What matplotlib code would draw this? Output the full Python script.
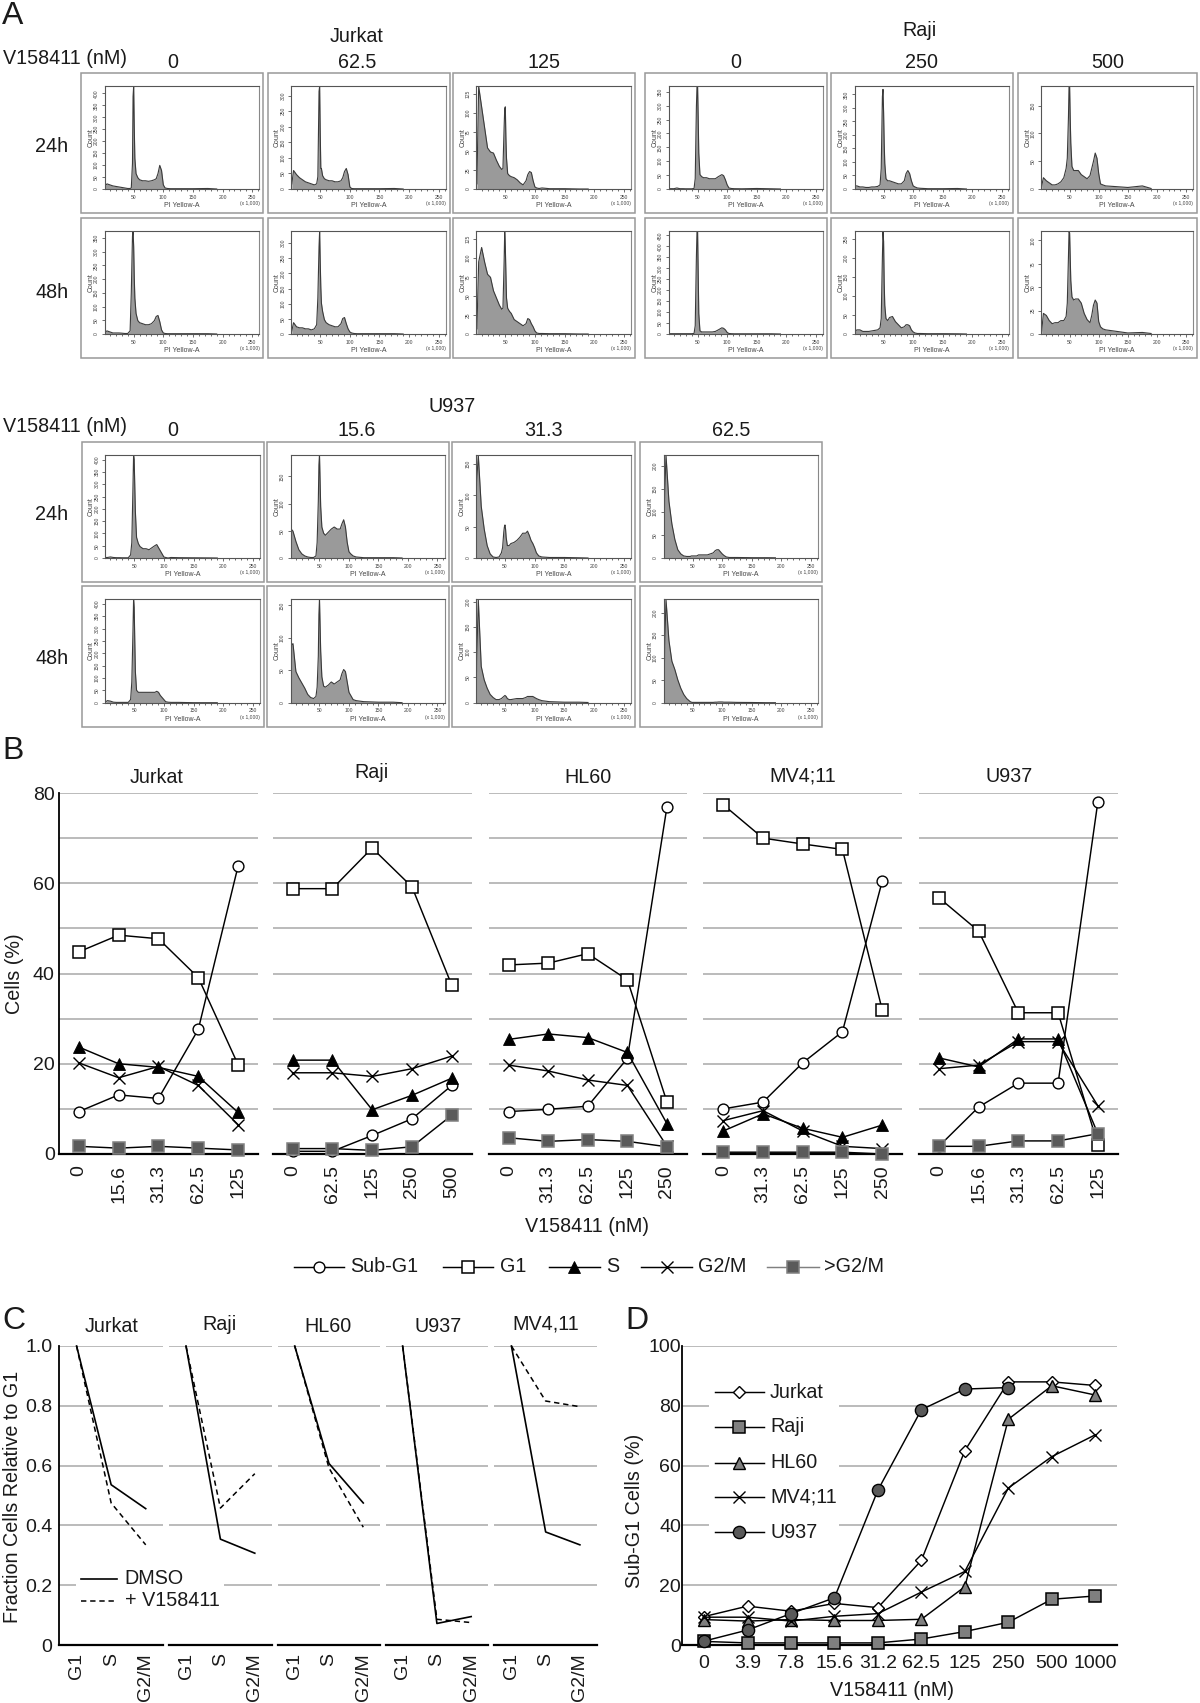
import matplotlib
matplotlib.use("Agg")
import matplotlib.pyplot as plt
from matplotlib.patches import Rectangle
from matplotlib.lines import Line2D

plt.rcParams['font.family'] = ['Liberation Sans', 'DejaVu Sans']
W, H = 1200, 1703

# ---------- Panel A: DNA histograms (% of plot height along PI, x1000) ----------
PI_GRID = [2,5,10,15,20,25,30,35,40,44,46,48,49,50,51,52,54,57,60,65,70,75,80,85,88,91,94,97,100,103,107,112,125,150,175,190]
J0_24 =   [3,5,4,3,2.5,2,1.5,1,.5,.5,1,25,90,100,60,30,15,11,9,8,8,7.5,8,9,10,15,23,18,4,1,.5,.3,.3,.3,.5,0]
J62_24 =  [5,18,14,11,9,7,6,5,4,5,12,95,100,55,20,20,13,10,9,8,8,7,7,8,11,17,20,14,2,.5,.3,.3,.3,.3,.5,0]
J125_24 = [5,100,80,60,40,36,35,28,22,19,20,60,78,80,50,30,15,13,12,11,9,6,4,8,14,17,16,8,2,1,.5,1,.3,.3,0,0]
J0_48 =   [2,3,2,1,1,1,.8,.5,.5,3,40,95,100,85,55,35,20,13,11,10,9,9,10,13,17,18,12,4,1,.5,.3,.3,.3,.3,.3,0]
J62_48 =  [3,11,7,6,6,5,5,4,5,9,35,85,100,70,45,30,22,14,11,9,8,7,7,10,15,16,10,5,2,1,.5,.3,.3,.3,.3,0]
J125_48 = [5,70,84,70,58,55,42,35,28,24,25,70,100,85,60,35,25,22,20,14,12,10,8,10,15,14,10,7,3,1,.5,.5,.3,.3,0,0]
R0_24 =   [.3,.3,.3,1,.3,.3,.2,.2,.2,.5,10,80,100,100,70,35,14,12,11,11,10,10,10,12,13,14,13,9,4,1,.5,.3,.2,.5,.2,0]
R250_24 = [3,3,2,2,1.5,1.5,2,2,2.5,4,20,90,97,75,45,25,10,8,8,7,6,5,5,8,15,18,15,8,3,2,1,.7,.3,.3,.5,0]
R500_24 = [3,11,8,6,4,4,5,7,11,20,30,70,100,100,70,45,22,18,18,18,14,12,10,13,20,27,35,30,15,5,4,3,2.5,1.5,3,.5]
R0_48 =   [.3,.3,.3,.3,.3,.3,.3,.3,.3,.5,8,75,100,100,60,20,3,2,2,2,2,2,2.5,4,5,6,5.5,4,1.5,.5,.3,.2,.2,.2,.2,0]
R250_48 = [3,4,4,2.5,2.5,2.5,3,3.5,4,6,15,75,100,90,50,28,15,13,16,17,12,9,6,7,9,9,8,4,2,1,.5,.5,.3,.3,.2,0]
R500_48 = [3,20,18,13,10,11,11,13,13,17,30,75,100,98,75,52,36,33,34,34,30,20,14,11,18,28,33,30,12,7,5,4,3,1,1.5,.5]
U0_24 =   [.5,.5,1,.5,.3,.3,.2,.2,.2,3,15,70,100,95,70,45,20,14,11,9,9,8,10,12,13,10,7,4,1,.5,0,.5,.3,.2,.1,0]
U15_24 =  [28,26,16,8,4,2,1,.5,.5,2,15,55,90,100,75,50,30,24,22,25,28,30,28,28,33,37,30,15,6,4,2,1,.3,.3,.3,0]
U31_24 =  [70,100,50,28,12,4,1,.5,1,5,10,25,30,32,28,20,12,12,14,15,17,20,24,24,26,22,17,14,10,5,2,1,.5,.5,.2,0]
U62_24 =  [40,100,55,33,18,8,4,2,1.5,1.5,1.5,2,2,2,2,2,2,2,3,3,3,3,4,5,7,8,8,6,4,2.5,1,.5,.5,.3,.3,.2]
U0_48 =   [1,2,1.5,.5,.3,.3,.3,.3,.3,3,20,70,100,92,60,30,12,10,10,10,10,10,10,10,11,10,7,5,3,1,.5,.3,.3,0,0,0]
U15_48 =  [55,57,30,24,19,14,8,5,4,6,15,45,85,100,75,50,25,16,15,17,20,18,20,22,28,32,30,20,10,7,3,2,1,.5,.5,0]
U31_48 =  [30,100,35,22,14,8,5,3,3,4,5,6,6.5,7,6.5,6,4,3,3,3.5,4,4,4,5,6,6,6,6,5,4,3,2,1,.5,.5,.2]
U62_48 =  [30,100,60,40,32,22,14,8,4,2,1,.5,.3,.3,.3,.3,.3,.3,.3,.3,.3,.3,.3,.3,.5,.5,.7,.7,.7,.5,.5,.5,.3,.2,0,0]

# count-axis top and tick step per histogram
J_HIST = [[J0_24, 430, 50], [J62_24, 330, 50], [J125_24, 135, 25],
          [J0_48, 375, 50], [J62_48, 340, 50], [J125_48, 135, 25]]
R_HIST = [[R0_24, 370, 50], [R250_24, 380, 50], [R500_24, 185, 50],
          [R0_48, 470, 50], [R250_48, 270, 50], [R500_48, 110, 25]]
U_HIST = [[U0_24, 420, 50], [U15_24, 190, 50], [U31_24, 165, 50], [U62_24, 225, 50],
          [U0_48, 420, 50], [U15_48, 160, 50], [U31_48, 205, 50], [U62_48, 230, 50]]

PI_TICKS = [50, 100, 150, 200, 250]

# ---------- Panel B ----------
B_NAMES = ['Jurkat', 'Raji', 'HL60', 'MV4;11', 'U937']
B_DOSES = [['0','15.6','31.3','62.5','125'], ['0','62.5','125','250','500'],
           ['0','31.3','62.5','125','250'], ['0','31.3','62.5','125','250'],
           ['0','15.6','31.3','62.5','125']]
B_SUBG1 = [[9.4,13.1,12.3,27.6,63.8],[0.6,0.6,4.1,7.8,15.2],[9.4,9.9,10.6,21.2,77],
           [10,11.5,20.2,27.1,60.4],[1.7,10.4,15.7,15.7,78]]
B_G1 =    [[44.8,48.5,47.7,39.1,19.8],[58.8,58.8,67.8,59.2,37.4],[41.9,42.3,44.4,38.6,11.5],
           [77.4,70,68.7,67.5,32],[56.8,49.4,31.3,31.3,2.1]]
B_S =     [[23.7,20,19.2,17.2,9.2],[20.8,20.8,9.8,13,16.8],[25.4,26.6,25.8,22.5,6.7],
           [5.1,8.9,5.7,3.7,6.4],[21.3,19.3,25.5,25.5,4.5]]
B_G2M =   [[20.2,16.9,19.4,15.2,6.5],[18,18,17.2,18.9,21.7],[19.7,18.4,16.4,15.2,1.7],
           [7.4,9.6,5.1,1.7,1.2],[18.9,19.7,24.9,24.9,10.7]]
B_GTG2M = [[1.7,1.3,1.7,1.3,0.9],[1.2,1.2,0.8,1.6,8.6],[3.6,2.8,3.2,2.8,1.6],
           [0.4,0.4,0.4,0.4,0.0],[1.7,1.7,2.9,2.9,4.5]]
B_SPANS = [(58.9, 258), (272.6, 471.7), (488.8, 686.8), (703.4, 902), (919, 1117.7)]

# ---------- Panel C ----------
C_NAMES = ['Jurkat', 'Raji', 'HL60', 'U937', 'MV4,11']
C_PHASES = ['G1', 'S', 'G2/M']
C_DMSO = [[1,.536,.456],[1,.354,.307],[1,.607,.475],[1,.072,.095],[1,.378,.335]]
C_DRUG = [[1,.475,.335],[1,.458,.573],[1,.592,.394],[1,.086,.075],[1,.816,.797]]
C_SPANS = [(59.3,163),(168.8,272),(277.6,380.4),(385.5,488.3),(494.3,597)]

# ---------- Panel D ----------
D_DOSES = ['0','3.9','7.8','15.6','31.2','62.5','125','250','500','1000']
D_JURKAT = [9.5,13,11.3,13.9,12.5,28.3,65,88,88,86.8]
D_RAJI = [1.2,.7,.7,.7,.7,2,4.5,7.6,15.3,16.4]
D_HL60 = [8.5,8,8.5,8.2,8.2,8.6,19.5,75.5,86.7,83.6]
D_MV411 = [9.3,9.3,8,9.6,10.5,17.7,24.6,52.5,63,70.3]
D_U937 = [1.3,5,10.5,15.8,51.8,78.7,85.6,86.1]

fig = plt.figure(figsize=(12, 17.03), dpi=100, facecolor='white')

def px_axes(l, t, r, b, z=1):
    return fig.add_axes([l/W, 1-b/H, (r-l)/W, (b-t)/H], zorder=z)

ov = fig.add_axes([0, 0, 1, 1], zorder=20)
ov.set_xlim(0, W); ov.set_ylim(H, 0); ov.axis('off'); ov.patch.set_alpha(0)

TXT = '#1a1a1a'
FS = 14.2
def T(x, y, s, size=FS, ha='center', va='center', rot=0, color=TXT):
    if rot:
        x += 2
    else:
        y += 2
    ov.text(x, y, s, fontsize=size, ha=ha, va=va, rotation=rot, color=color)

def histogram(box, values, ymax, step):
    l, t, r, b = box
    ov.add_patch(Rectangle((l, t), r-l, b-t, fill=False, ec='#999999', lw=1.1))
    ax = px_axes(l+23.6, t+13, r-4, b-24)
    ax.fill_between(PI_GRID, values, 0, color='#9a9a9a', lw=0)
    ax.plot(PI_GRID, values, color='#3a3a3a', lw=0.8)
    ax.set_xlim(1, 262); ax.set_ylim(0, 100)
    ticks = list(range(0, int(ymax)+1, step))
    ax.set_yticks([v/ymax*100 for v in ticks])
    ax.set_yticklabels([str(v) for v in ticks], rotation=90, va='center', fontsize=3.6, color='#444444')
    ax.set_xticks(PI_TICKS)
    ax.set_xticklabels([str(v) for v in PI_TICKS], fontsize=3.6, color='#444444')
    ax.set_xticks(list(range(10, 261, 10)), minor=True)
    ax.tick_params(axis='both', which='major', length=2.5, width=0.5, pad=1.5, color='#333333')
    ax.tick_params(axis='x', which='minor', length=1.5, width=0.5, color='#333333')
    for name, s in ax.spines.items():
        s.set_linewidth(0.8); s.set_color('#555555')
    ax.spines['right'].set_color('#888888')
    ax.text(0.5, -0.16, 'PI Yellow-A', transform=ax.transAxes, ha='center', va='center', fontsize=5, color='#444444')
    ax.text(1.0, -0.145, '(x 1,000)', transform=ax.transAxes, ha='right', va='center', fontsize=3.6, color='#444444')
    ax.text(-0.088, 0.5, 'Count', transform=ax.transAxes, ha='center', va='center', rotation=90, fontsize=5, color='#444444')

# Panel A layout
ROW_A = [(73.3, 213), (218, 358)]
COL_J = [(81, 263.4), (267.6, 449.8), (452.7, 634.8)]
COL_R = [(645, 827), (831, 1013), (1017.5, 1197)]
for group, cols in ((J_HIST, COL_J), (R_HIST, COL_R)):
    for i, (vals, ymax, step) in enumerate(group):
        c = cols[i % 3]; rr = ROW_A[i // 3]
        histogram((c[0], rr[0], c[1], rr[1]), vals, ymax, step)
ROW_U = [(441.7, 582), (586, 726.7)]
COL_U = [(81.5, 264), (267, 448.5), (452.3, 634.7), (640, 822)]
for i, (vals, ymax, step) in enumerate(U_HIST):
    c = COL_U[i % 4]; rr = ROW_U[i // 4]
    histogram((c[0], rr[0], c[1], rr[1]), vals, ymax, step)

T(2, 14, 'A', 23, ha='left')
T(357, 34, 'Jurkat'); T(920, 29, 'Raji')
T(3, 57, 'V158411 (nM)', ha='left')
for x, s in zip((172.7, 357, 544, 736, 921, 1108), ('0','62.5','125','0','250','500')):
    T(x, 60, s)
T(52, 144.5, '24h'); T(52, 290.5, '48h')
T(452, 405, 'U937')
T(3, 425, 'V158411 (nM)', ha='left')
for x, s in zip((172.7, 357, 544, 731), ('0','15.6','31.3','62.5')):
    T(x, 429, s)
T(52, 512, '24h'); T(52, 657, '48h')

# Panel B
GRID = '#b5b5b5'
DARK = '#5a5a5a'
MARK = {
    'Sub-G1': dict(marker='o', ms=7.8, mfc='white', mec='black', mew=1.0),
    'G1': dict(marker='s', ms=8.2, mfc='white', mec='black', mew=1.1),
    'S': dict(marker='^', ms=8.4, mfc='black', mec='black', mew=0.6),
    'G2/M': dict(marker='x', ms=8.2, mfc='none', mec='black', mew=1.0),
    '>G2/M': dict(marker='s', ms=8.2, mfc=DARK, mec='#808080', mew=1.1),
}
B_TOP, B_BOT = 793, 1154
for i, name in enumerate(B_NAMES):
    ax = px_axes(B_SPANS[i][0], B_TOP, B_SPANS[i][1], B_BOT)
    ax.set_xlim(-0.5, 4.5); ax.set_ylim(0, 80)
    ax.set_yticks(range(0, 81, 10))
    ax.yaxis.grid(True, color=GRID, lw=1.3); ax.set_axisbelow(True)
    for s in ('top', 'right', 'left'):
        ax.spines[s].set_visible(False)
    ax.spines['bottom'].set_linewidth(1.6)
    ax.tick_params(axis='y', length=0); ax.tick_params(axis='x', length=0, pad=8, labelsize=14, labelcolor=TXT)
    ax.set_xticks(range(5))
    ax.set_xticklabels(B_DOSES[i], rotation=90, va='top', ha='center')
    for lab, data in (('Sub-G1', B_SUBG1), ('G1', B_G1), ('S', B_S), ('G2/M', B_G2M), ('>G2/M', B_GTG2M)):
        ax.plot(range(5), data[i], color='black', lw=1.05, clip_on=False, zorder=3, **MARK[lab])
    if i == 0:
        ax.spines['left'].set_visible(True); ax.spines['left'].set_linewidth(1.3)
        ax.set_yticklabels(['0', '', '20', '', '40', '', '60', '', '80'], fontsize=14, color=TXT)
        ax.tick_params(axis='y', pad=3)
    else:
        ax.set_yticklabels([])
T(2, 749, 'B', 23, ha='left')
for x, y, s in zip((157, 371.5, 587.6, 802.7, 1009), (775.5, 771, 775.5, 774, 774), B_NAMES):
    T(x, y, s)
T(12, 974, 'Cells (%)', rot=90)
T(587, 1225, 'V158411 (nM)')

def legend_key(x0, x1, y, style, color='black'):
    ov.add_line(Line2D([x0, x1], [y, y], color=color, lw=1.05))
    ov.add_line(Line2D([(x0+x1)/2], [y], **style))

LEG_Y = 1266.5
for (x0, x1, tx, lab) in ((293.8, 344.4, 350.6, 'Sub-G1'), (442.7, 493, 500, 'G1'),
                          (548.5, 599.6, 605.8, 'S'), (641, 692, 697.8, 'G2/M'),
                          (767.4, 819, 824.4, '>G2/M')):
    legend_key(x0, x1, LEG_Y, MARK[lab], color='#808080' if lab == '>G2/M' else 'black')
    T(tx, LEG_Y-2, lab, ha='left')

# Panel C
C_TOP, C_BOT = 1346, 1645
for i, name in enumerate(C_NAMES):
    ax = px_axes(C_SPANS[i][0], C_TOP, C_SPANS[i][1], C_BOT)
    ax.set_xlim(-0.5, 2.5); ax.set_ylim(0, 1)
    ax.set_yticks([0, .2, .4, .6, .8, 1])
    ax.yaxis.grid(True, color=GRID, lw=1.3); ax.set_axisbelow(True)
    for s in ('top', 'right', 'left'):
        ax.spines[s].set_visible(False)
    ax.spines['bottom'].set_linewidth(1.6)
    ax.tick_params(axis='y', length=0); ax.tick_params(axis='x', length=0, pad=6, labelsize=14, labelcolor=TXT)
    ax.set_xticks(range(3))
    ax.set_xticklabels(C_PHASES, rotation=90, va='top', ha='center')
    ax.plot(range(3), C_DMSO[i], color='black', lw=1.2, clip_on=False, zorder=3)
    ax.plot(range(3), C_DRUG[i], color='black', lw=1.1, ls=(0, (3.5, 2.5)), clip_on=False, zorder=3)
    if i == 0:
        ax.spines['left'].set_visible(True); ax.spines['left'].set_linewidth(1.3)
        ax.set_yticklabels(['0', '0.2', '0.4', '0.6', '0.8', '1.0'], fontsize=14, color=TXT)
        ax.tick_params(axis='y', pad=5)
    else:
        ax.set_yticklabels([])
T(2, 1319, 'C', 23, ha='left')
for x, y, s in zip((112, 220, 328, 438, 546), (1325, 1322, 1325, 1325, 1322), C_NAMES):
    T(x, y, s)
T(11, 1497, 'Fraction Cells Relative to G1', rot=90)
ov.add_patch(Rectangle((76, 1562), 148, 50, fc='white', ec='none'))
ov.add_line(Line2D([81, 117], [1579, 1579], color='black', lw=1.2))
ov.add_line(Line2D([81, 117], [1601, 1601], color='black', lw=1.1, ls=(0, (3.5, 2.5))))
T(124.6, 1577, 'DMSO', ha='left')
T(124.6, 1599, '+ V158411', ha='left')

# Panel D
ax = px_axes(682.3, C_TOP, 1117, C_BOT)
ax.set_xlim(-0.5, 9.5); ax.set_ylim(0, 100)
ax.set_yticks(range(0, 101, 20))
ax.yaxis.grid(True, color=GRID, lw=1.3); ax.set_axisbelow(True)
for s in ('top', 'right'):
    ax.spines[s].set_visible(False)
ax.spines['bottom'].set_linewidth(1.6); ax.spines['left'].set_linewidth(1.3)
ax.tick_params(axis='both', length=0, labelsize=14, labelcolor=TXT)
ax.tick_params(axis='y', pad=1); ax.tick_params(axis='x', pad=7)
ax.set_xticks(range(10)); ax.set_xticklabels(D_DOSES)
D_STYLE = {
    'Jurkat': dict(marker='D', ms=6.6, mfc='white', mec='black', mew=1.0),
    'Raji': dict(marker='s', ms=8.8, mfc='#7f7f7f', mec='black', mew=1.1),
    'HL60': dict(marker='^', ms=9, mfc='#7f7f7f', mec='black', mew=1.0),
    'MV4;11': dict(marker='x', ms=8.6, mfc='none', mec='black', mew=1.0),
    'U937': dict(marker='o', ms=8.8, mfc='#595959', mec='black', mew=1.0),
}
for lab, data in (('Jurkat', D_JURKAT), ('Raji', D_RAJI), ('HL60', D_HL60), ('MV4;11', D_MV411), ('U937', D_U937)):
    ax.plot(range(len(data)), data, color='black', lw=1.05, clip_on=False, zorder=3, **D_STYLE[lab])
T(625, 1319, 'D', 23, ha='left')
T(632, 1511, 'Sub-G1 Cells (%)', rot=90)
T(892, 1688, 'V158411 (nM)')
ov.add_patch(Rectangle((708.6, 1372), 130, 175, fc='white', ec='none'))
for lab, y in zip(('Jurkat', 'Raji', 'HL60', 'MV4;11', 'U937'), (1392, 1426.5, 1462.7, 1497, 1532)):
    legend_key(714.6, 764.3, y, D_STYLE[lab])
    T(770, y-2, lab, ha='left')

fig.savefig('out.png', dpi=100, facecolor='white')
